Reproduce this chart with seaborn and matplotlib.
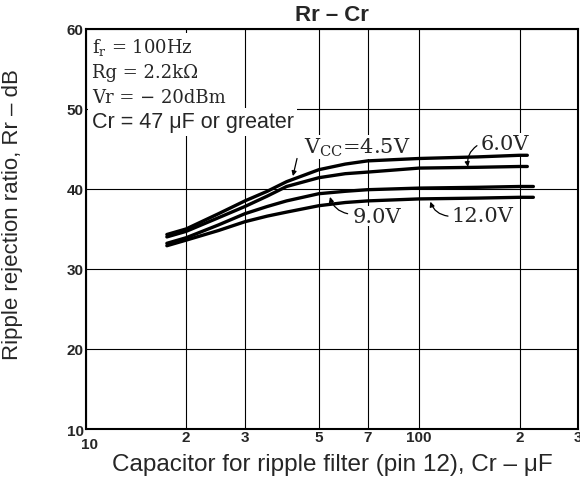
import numpy as np
import pandas as pd
import matplotlib
matplotlib.use("Agg")
import matplotlib.pyplot as plt
import seaborn as sns

# Ripple rejection ratio vs. ripple-filter capacitor, one curve per supply voltage
vcc_labels = ["4.5V", "6.0V", "9.0V", "12.0V"]

cap_45 = [17.5, 20, 25, 30, 35, 40, 50, 60, 70, 100, 150, 200, 211]
rr_45 = [34.3, 35.0, 36.9, 38.5, 39.7, 40.9, 42.4, 43.1, 43.5, 43.8, 44.0, 44.2, 44.2]

cap_60 = [17.5, 20, 25, 30, 35, 40, 50, 60, 70, 100, 150, 200, 211]
rr_60 = [34.0, 34.7, 36.4, 37.8, 39.1, 40.3, 41.4, 41.9, 42.1, 42.6, 42.7, 42.8, 42.8]

cap_90 = [17.5, 20, 25, 30, 35, 40, 50, 60, 70, 100, 150, 200, 220]
rr_90 = [33.2, 33.9, 35.5, 36.9, 37.8, 38.5, 39.4, 39.7, 39.9, 40.1, 40.2, 40.3, 40.3]

cap_120 = [17.5, 20, 25, 30, 35, 40, 50, 60, 70, 100, 150, 200, 220]
rr_120 = [32.9, 33.6, 34.8, 35.9, 36.6, 37.1, 37.9, 38.3, 38.5, 38.75, 38.85, 38.95, 38.95]

x_ticks = [10, 20, 30, 50, 70, 100, 200, 300]
x_tick_labels = ["", "2", "3", "5", "7", "100", "2", "3"]
y_ticks = [10, 20, 30, 40, 50, 60]

frames = []
for name, cx, ry in zip(vcc_labels,
                        [cap_45, cap_60, cap_90, cap_120],
                        [rr_45, rr_60, rr_90, rr_120]):
    frames.append(pd.DataFrame({"Cr": cx, "Rr": ry, "Vcc": name}))
df = pd.concat(frames, ignore_index=True)

sns.set_style("white")
plt.rcParams["font.family"] = ["Liberation Sans", "DejaVu Sans"]

fig = plt.figure(figsize=(5.8, 4.81), dpi=100)
ax = fig.add_axes([0.148, 0.106, 0.849, 0.832])

sns.lineplot(data=df, x="Cr", y="Rr", hue="Vcc", hue_order=vcc_labels,
             palette=["black"] * 4, linewidth=2.4, legend=False, ax=ax,
             sort=False, estimator=None)
for ln in ax.get_lines():
    ln.set_solid_joinstyle("round")
    ln.set_zorder(2.5)

ax.set_xscale("log")
ax.set_xlim(10, 300)
ax.set_ylim(10, 60)
ax.set_xticks(x_ticks)
ax.set_xticklabels(x_tick_labels)
ax.xaxis.set_minor_locator(matplotlib.ticker.NullLocator())
ax.set_yticks(y_ticks)
ax.set_yticklabels([str(v) for v in y_ticks])
ax.tick_params(axis="both", length=0, labelsize=11)
ax.tick_params(axis="x", pad=1)
ax.tick_params(axis="y", pad=1.5)
for lab in ax.get_xticklabels() + ax.get_yticklabels():
    lab.set_fontweight("bold")

# lone "10" under the left corner, set a little lower than the others
ax.annotate("10", xy=(10, 0), xycoords=("data", "axes fraction"),
            xytext=(2.5, -5.5), textcoords="offset points",
            ha="center", va="top", fontsize=11, fontweight="bold")

ax.grid(True, which="major", color="black", linewidth=0.8)
ax.set_axisbelow(True)
for sp in ax.spines.values():
    sp.set_color("black")
    sp.set_linewidth(1.5)

ax.set_title("Rr \u2013 Cr", fontsize=16, fontweight="bold", pad=6)
ax.set_xlabel("Capacitor for ripple filter (pin 12), Cr \u2013 \u03bcF", fontsize=17.5)
ax.set_ylabel("Ripple rejection ratio, Rr \u2013 dB", fontsize=16)
ax.yaxis.set_label_coords(-0.128, 0.5375)
ax.xaxis.set_label_coords(0.5, -0.060)

# conditions block on a white ground that hides the grid behind it
white = dict(facecolor="white", edgecolor="none", pad=2.6)
serif = ["DejaVu Serif"]
ax.text(0.012, 0.955, r"f$_\mathregular{r}$ = 100Hz", transform=ax.transAxes,
        fontsize=13, family=serif, va="center", ha="left", bbox=white)
ax.text(0.012, 0.893, "Rg = 2.2k\u03a9", transform=ax.transAxes,
        fontsize=13, family=serif, va="center", ha="left", bbox=white)
ax.text(0.012, 0.830, "Vr = \u2212 20dBm", transform=ax.transAxes,
        fontsize=13, family=serif, va="center", ha="left", bbox=white)
ax.text(0.012, 0.768, "Cr = 47 \u03bcF or greater", transform=ax.transAxes,
        fontsize=15.5, va="center", ha="left", bbox=white)

# curve labels with pointers (kept under the curves)
arrow = dict(arrowstyle="-|>", color="black", lw=0.9, mutation_scale=7,
             shrinkA=0, shrinkB=0)
lab_kw = dict(fontsize=15, family=serif, va="baseline", ha="left", zorder=2,
              bbox=dict(facecolor="white", edgecolor="none", pad=0.5))

ax.text(45.0, 44.5, r"V$_\mathregular{CC}$=4.5V", **lab_kw)
ax.annotate("", xy=(41.8, 41.6), xytext=(43.0, 43.8), arrowprops=arrow)

ax.text(153, 45.0, "6.0V", **lab_kw)
ax.annotate("", xy=(140, 42.75), xytext=(149, 45.4),
            arrowprops=dict(arrow, connectionstyle="arc3,rad=0.3"))

ax.text(63, 35.9, "9.0V", **lab_kw)
ax.annotate("", xy=(54, 39.0), xytext=(61, 36.9),
            arrowprops=dict(arrow, connectionstyle="arc3,rad=-0.3"))

ax.text(125, 36.0, "12.0V", **lab_kw)
ax.annotate("", xy=(108, 38.4), xytext=(122, 36.6),
            arrowprops=dict(arrow, connectionstyle="arc3,rad=-0.3"))

fig.savefig("out.png", dpi=100)
